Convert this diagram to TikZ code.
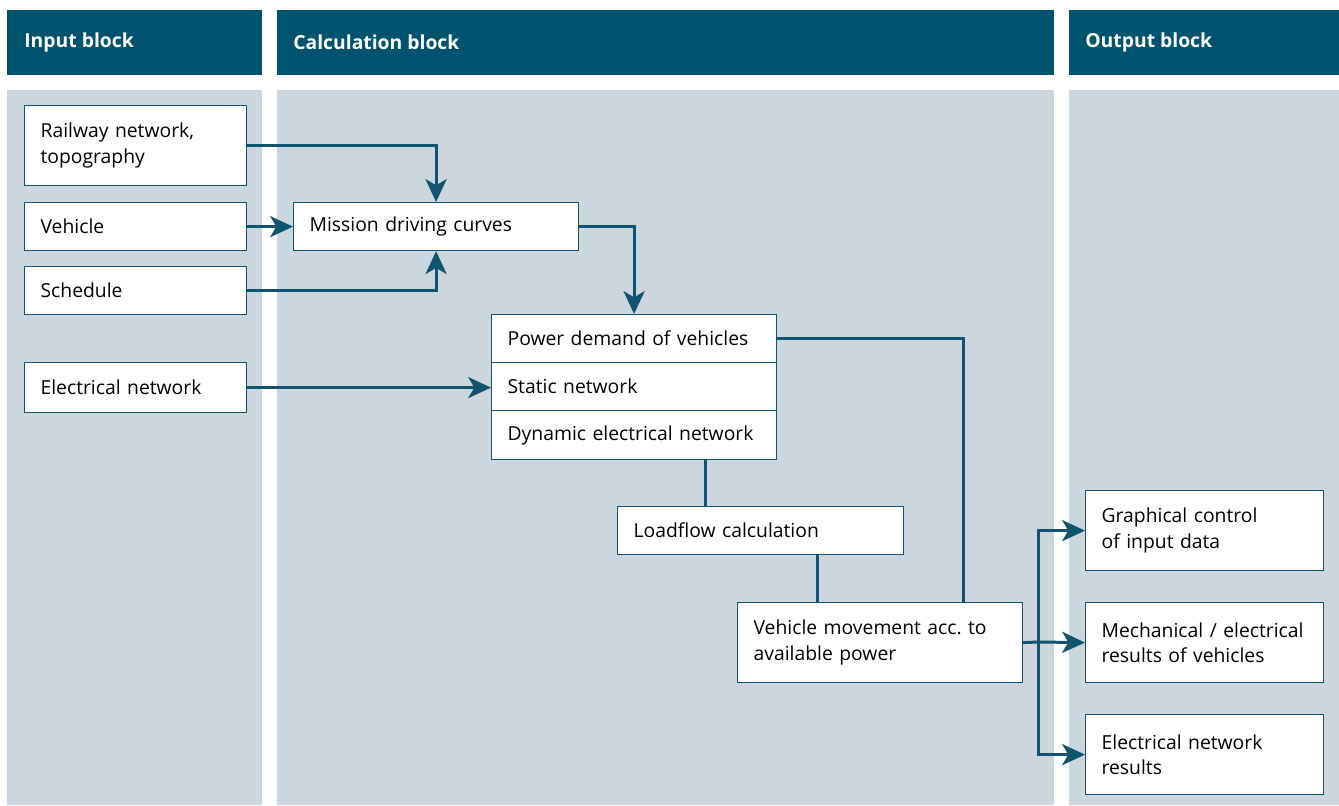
\documentclass[tikz,border=0pt]{standalone}
\usepackage{fontspec}
\setmainfont{Open Sans}
\usepackage{tikz}
\usetikzlibrary{arrows.meta,calc}
\definecolor{headblue}{RGB}{0,83,111}
\definecolor{panelgray}{RGB}{203,214,222}
\definecolor{linkblue}{RGB}{16,84,112}
\frenchspacing

\begin{document}
\begin{tikzpicture}[x=0.02cm, y=-0.02cm,
  box/.style={draw=linkblue, fill=white, line width=0.7pt, anchor=north west, align=left,
    inner xsep=0.32cm, inner ysep=0pt, font=\fontsize{11}{14.5}\selectfont},
  head/.style={anchor=west, inner sep=0pt, text=white, font=\fontsize{11}{13}\selectfont\bfseries},
  link/.style={draw=linkblue, line width=1.7pt},
  arr/.style={link, -{Stealth[length=13pt,width=12pt,inset=3.5pt]}}]
\useasboundingbox (0,0) rectangle (1339,805);

% Column backgrounds and header bars
\fill[panelgray] (7,90) rectangle (262,805);
\fill[panelgray] (277,90) rectangle (1054,805);
\fill[panelgray] (1069,90) rectangle (1339,805);
\fill[headblue] (7,10) rectangle (262,75);
\fill[headblue] (277,10) rectangle (1054,75);
\fill[headblue] (1069,10) rectangle (1339,75);
\node[head] (inhead) at (24,42) {Input block};
\node[head] (calchead) at (293,42) {Calculation block};
\node[head] (outhead) at (1085,42) {Output block};

% Input block
\node[box, text width=3.8cm, minimum height=1.6cm] (rail) at (24,105) {Railway network,\\topography};
\node[box, text width=3.8cm, minimum height=0.96cm] (veh) at (24,202) {Vehicle};
\node[box, text width=3.8cm, minimum height=0.96cm] (sched) at (24,266) {Schedule};
\node[box, text width=3.8cm, minimum height=1cm] (elnet) at (24,362) {Electrical network};

% Calculation block
\node[box, text width=5.06cm, minimum height=0.96cm] (mission) at (293,202) {Mission driving curves};
\node[box, text width=5.06cm, minimum height=0.96cm] (power) at (491,314) {Power demand of vehicles};
\node[box, text width=5.06cm, minimum height=0.96cm] (static) at (491,362) {Static network};
\node[box, text width=5.06cm, minimum height=0.98cm] (dyn) at (491,410) {Dynamic electrical network};
\node[box, text width=5.08cm, minimum height=0.96cm] (load) at (617,506) {Loadflow calculation};
\node[box, text width=5.06cm, minimum height=1.6cm] (vmove) at (737,602) {Vehicle movement acc. to\\available power};

% Output block
\node[box, text width=4.12cm, minimum height=1.6cm] (gfx) at (1085,490) {Graphical control\\of input data};
\node[box, text width=4.12cm, minimum height=1.6cm] (mech) at (1085,602) {Mechanical / electrical\\results of vehicles};
\node[box, text width=4.12cm, minimum height=1.6cm] (elres) at (1085,714) {Electrical network\\results};

% Connectors
\coordinate (d1) at ($(dyn.south west)+(214,0)$);
\coordinate (l1) at ($(load.south west)+(200,0)$);
\coordinate (p1) at ($(vmove.north east)+(-60,0)$);
\coordinate (split) at (1038,642);
\draw[arr] (rail.east) -| (mission.north);
\draw[arr] (veh.east) -- (mission.west);
\draw[arr] (sched.east) -| (mission.south);
\draw[arr] (mission.east) -| (power.north);
\draw[arr] (elnet.east) -- (elnet.east -| static.west);
\draw[link] (power.east) -| (p1);
\draw[link] (d1) -- (d1 |- load.north);
\draw[link] (l1) -- (l1 |- vmove.north);
\draw[link] (vmove.east) -- (split);
\draw[arr] (split) |- (gfx.west);
\draw[arr] (split) -- (mech.west);
\draw[arr] (split) |- (elres.west);
\end{tikzpicture}
\end{document}
